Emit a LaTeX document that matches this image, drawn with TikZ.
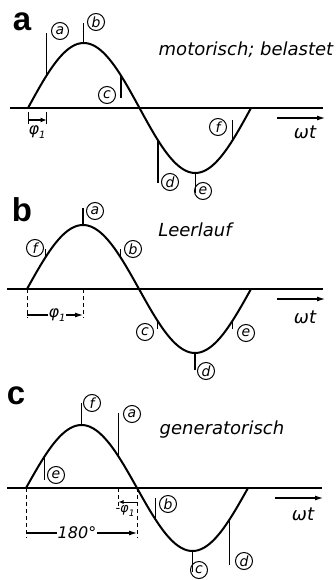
\documentclass[tikz,border=0pt]{standalone}
\usepackage{fontspec}
\setsansfont{DejaVu Sans}
\newfontfamily\panelfont{Liberation Sans}
\usetikzlibrary{arrows.meta}
\begin{document}
\begin{tikzpicture}[x=1pt,y=-1pt,
 curve/.style={line width=2pt},
 axisline/.style={line width=1.2pt},
 mline/.style={line width=1.4pt},
 tag/.style={circle,draw,line width=1pt,minimum size=17pt,inner sep=0pt,font=\sffamily\itshape\fontsize{14}{14}\selectfont},
 captext/.style={font=\sffamily\itshape\fontsize{18}{18}\selectfont,inner sep=0pt},
 small/.style={font=\sffamily\itshape\fontsize{16}{16}\selectfont,inner sep=1pt},
 plabel/.style={font=\panelfont\bfseries\fontsize{33}{33}\selectfont,inner sep=0pt},
 dimline/.style={line width=1pt,dash pattern=on 4pt off 3pt},
 arr/.style={line width=1.1pt,-{Latex[length=8pt,width=5pt]}},
]
\useasboundingbox (0,0) rectangle (336,580);

% ================= panel a =================
\node[plabel] (pa) at (22,22) {a};
\node[captext] (capa) at (246,50) {motorisch; belastet};
\coordinate (axa1) at (10,108); \coordinate (axa2) at (323,108);
\draw[axisline] (axa1) -- (axa2);
\draw[curve] plot[domain=0:360,samples=120,smooth] ({28+\x/180*111.5},{108-65*sin(\x)});
% markers
\coordinate (ca) at (46.6,75.5);  \coordinate (ea) at (46.6,33);
\coordinate (cb) at (83.75,43);   \coordinate (eb) at (83.75,23);
\coordinate (cc) at (120.9,75.5); \coordinate (ec) at (120.9,98);
\coordinate (cd) at (158.1,140.5);\coordinate (ed) at (158.1,183);
\coordinate (ce) at (195.25,173); \coordinate (ee) at (195.25,193);
\coordinate (cf) at (232.4,140.5);\coordinate (ef) at (232.4,120);
\foreach \m in {a,b,c,d,e,f} {\draw[mline] (c\m) -- (e\m);}
\node[tag] (la) at (60,31) {a};
\node[tag] (lb) at (96,22) {b};
\node[tag] (lc) at (107,95) {c};
\node[tag] (ld) at (170,182) {d};
\node[tag] (le) at (203,191) {e};
\node[tag] (lf) at (218,127) {f};
% phi1
\coordinate (pa1) at (28,112); \coordinate (pa2) at (28,124);
\coordinate (pa3) at (46.6,112); \coordinate (pa4) at (46.6,124);
\draw[line width=1pt] (pa1) -- (pa2) (pa3) -- (pa4);
\coordinate (pa5) at (28,120); \coordinate (pa6) at (46.6,120);
\draw[arr,-{Latex[length=6pt,width=5pt]}] (pa5) -- (pa6);
\node[small] (phia) at (37,132) {φ\raisebox{-0.25em}{\fontsize{10}{10}\selectfont 1}};
% omega t
\coordinate (wa1) at (277,118); \coordinate (wa2) at (325,118);
\draw[arr] (wa1) -- (wa2);
\node[captext] (wta) at (305,132) {ωt};

% ================= panel b =================
\node[plabel] (pb) at (22,210) {b};
\node[captext] (capb) at (195,230) {Leerlauf};
\coordinate (axb1) at (7,289); \coordinate (axb2) at (323,289);
\draw[axisline] (axb1) -- (axb2);
\draw[curve] plot[domain=0:360,samples=120,smooth] ({27+\x/180*112},{289-64*sin(\x)});
\coordinate (bca) at (83,225);    \coordinate (bea) at (83,208);
\coordinate (bcb) at (120.3,257); \coordinate (beb) at (120.3,249);
\coordinate (bcc) at (157.7,321); \coordinate (bec) at (157.7,329);
\coordinate (bcd) at (195,353);   \coordinate (bed) at (195,370);
\coordinate (bce) at (232.3,321); \coordinate (bee) at (232.3,329);
\coordinate (bcf) at (45.7,257);  \coordinate (bef) at (45.7,249);
\foreach \m in {a,b,c,d,e,f} {\draw[mline] (bc\m) -- (be\m);}
\node[tag] (lba) at (95,211) {a};
\node[tag] (lbb) at (133,249) {b};
\node[tag] (lbc) at (145,332) {c};
\node[tag] (lbd) at (206,371) {d};
\node[tag] (lbe) at (246,333) {e};
\node[tag] (lbf) at (35,248) {f};
% phi1 dimension
\coordinate (db1) at (27,289); \coordinate (db2) at (27,318);
\coordinate (db3) at (83,289); \coordinate (db4) at (83,318);
\draw[dimline] (db1) -- (db2) (db3) -- (db4);
\coordinate (db5) at (27,315); \coordinate (db6) at (83,315);
\draw[arr] (db5) -- (db6);
\node[small,fill=white] (phib) at (57,315) {φ\raisebox{-0.25em}{\fontsize{10}{10}\selectfont 1}};
\coordinate (wb1) at (277,299); \coordinate (wb2) at (325,299);
\draw[arr] (wb1) -- (wb2);
\node[captext] (wtb) at (305,317) {ωt};

% ================= panel c =================
\node[plabel] (pc) at (16,396) {c};
\node[captext] (capc) at (222,430) {generatorisch};
\coordinate (axc1) at (7,488); \coordinate (axc2) at (322,488);
\draw[axisline] (axc1) -- (axc2);
\draw[curve] plot[domain=0:360,samples=120,smooth] ({26+\x/180*111},{488-63*sin(\x)});
\coordinate (cce) at (44.5,456.5); \coordinate (cee) at (44.5,480);
\coordinate (ccf) at (81.5,425);   \coordinate (cef) at (81.5,403);
\coordinate (cca) at (118.5,456.5);\coordinate (cea) at (118.5,413);
\coordinate (ccb) at (155.5,519.5);\coordinate (ceb) at (155.5,498);
\coordinate (ccc) at (192.5,551);  \coordinate (cec) at (192.5,572);
\coordinate (ccd) at (229.5,519.5);\coordinate (ced) at (229.5,565);
\foreach \m in {a,b,c,d,e,f} {\draw[mline] (cc\m) -- (ce\m);}
\node[tag] (lca) at (132,414) {a};
\node[tag] (lcb) at (168,504) {b};
\node[tag] (lcc) at (199,570) {c};
\node[tag] (lcd) at (244,561) {d};
\node[tag] (lce) at (56,475) {e};
\node[tag] (lcf) at (92,403) {f};
% dimensions
\coordinate (dc1) at (26,488);  \coordinate (dc2) at (26,538);
\coordinate (dc3) at (137,488); \coordinate (dc4) at (137,538);
\coordinate (dc5) at (118.5,488); \coordinate (dc6) at (118.5,507);
\draw[dimline] (dc1) -- (dc2) (dc3) -- (dc4) (dc5) -- (dc6);
\coordinate (dc7) at (26,533); \coordinate (dc8) at (137,533);
\draw[arr] (dc7) -- (dc8);
\node[small,fill=white] (deg) at (77,533) {180°};
\coordinate (dc9) at (137,502); \coordinate (dc10) at (118.5,502);
\draw[line width=1pt,-{Latex[length=5pt,width=4pt]}] (dc9) -- (dc10);
\node[font=\sffamily\itshape\fontsize{13}{13}\selectfont,inner sep=0pt] (phic) at (125,511) {-φ\raisebox{-0.25em}{\fontsize{9}{9}\selectfont 1}};
\coordinate (wc1) at (275,498); \coordinate (wc2) at (323,498);
\draw[arr] (wc1) -- (wc2);
\node[captext] (wtc) at (303,514) {ωt};
\end{tikzpicture}
\end{document}
